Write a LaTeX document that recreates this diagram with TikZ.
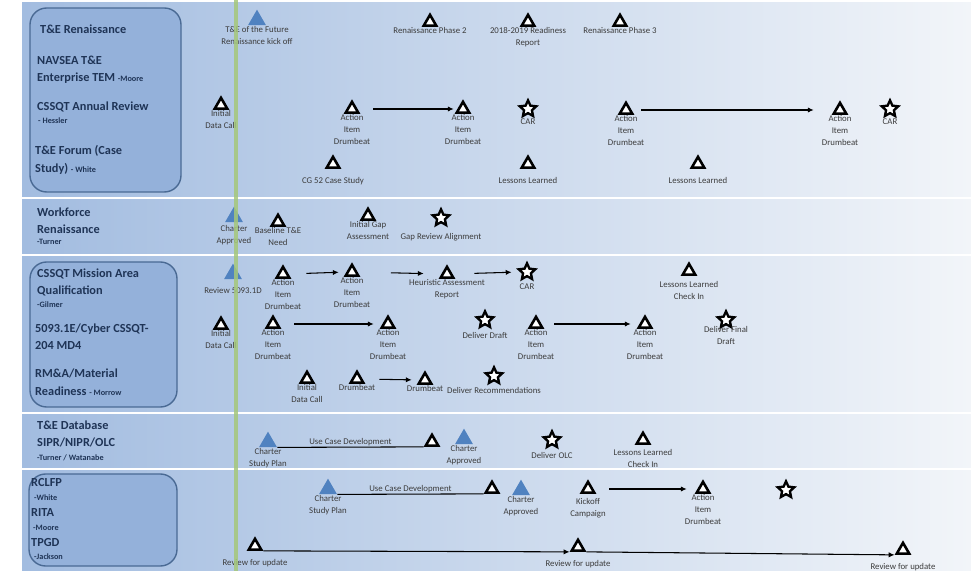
\documentclass[tikz,border=0pt]{standalone}
\usepackage{fontspec}
\setmainfont{Carlito}
\usetikzlibrary{shapes.geometric,arrows.meta}

\definecolor{BandL}{HTML}{A2BCE0}
\definecolor{BandR}{HTML}{F2F5F9}
\definecolor{BoxFill}{HTML}{94B1DA}
\definecolor{BoxLine}{HTML}{4A6A94}
\definecolor{MileBlue}{HTML}{5082C0}
\definecolor{GreenLine}{HTML}{A5C77A}
\definecolor{TitleInk}{HTML}{1F3456}
\definecolor{LabelInk}{HTML}{3C3C3C}

\newcommand{\subfont}{\fontsize{7}{8}\selectfont\bfseries}

\tikzset{
  band/.style={left color=BandL, right color=BandR},
  lanebox/.style={rounded corners=0.5cm, fill=BoxFill, draw=BoxLine, line width=1.2pt},
  ttl/.style={anchor=west, inner sep=0pt, text=TitleInk, font=\fontsize{10.5}{15}\selectfont\bfseries},
  sub/.style={anchor=west, inner sep=0pt, text=TitleInk, font=\subfont},
  lbl/.style={align=center, inner sep=0.5pt, text=LabelInk, font=\fontsize{7.5}{10}\selectfont},
  mile/.style={regular polygon, regular polygon sides=3, draw=black, line width=2.2pt, fill=white, inner sep=0pt, minimum size=4.3mm},
  bmile/.style={regular polygon, regular polygon sides=3, fill=MileBlue, inner sep=0pt, minimum size=6.2mm},
  goal/.style={star, star points=5, star point ratio=2.1, draw=black, line width=2pt, fill=white, inner sep=0pt, minimum size=5.2mm},
  flow/.style={line width=0.9pt, -{Latex[length=5pt,width=4.5pt]}},
  plain/.style={line width=0.9pt}
}

\begin{document}
\begin{tikzpicture}[x=0.03cm, y=-0.03cm]
 \useasboundingbox (0,0) rectangle (971,571);

 %%%%%%%%%% Bands %%%%%%%%%%
 \path[band] (22,3) rectangle (971,197);
 \path[band] (22,200) rectangle (971,254);
 \path[band] (22,257) rectangle (971,412);
 \path[band] (22,415) rectangle (971,468);
 \path[band] (22,471) rectangle (971,571);

 \draw[lanebox] (30,8) rectangle (181,192);
 \draw[lanebox] (30,262) rectangle (177,407);
 \draw[lanebox] (29,474) rectangle (177,566);

 %%%%%%%%%% Lane titles %%%%%%%%%%
 \node[ttl] (ttlren) at (40,29) {T\&E Renaissance};
 \node[ttl] (ttlnav1) at (37,60) {NAVSEA T\&E};
 \node[ttl] (ttlnav2) at (37,78) {Enterprise TEM {\subfont -Moore}};
 \node[ttl] (ttlcss) at (37,107) {CSSQT Annual Review};
 \node[sub] (subhes) at (38,121) {- Hessler};
 \node[ttl] (ttlfor1) at (35,151) {T\&E Forum (Case};
 \node[ttl] (ttlfor2) at (35,169) {Study) {\subfont - White}};

 \node[ttl] (ttlwf1) at (37,212) {Workforce};
 \node[ttl] (ttlwf2) at (37,229) {Renaissance};
 \node[sub] (subtur) at (37,242) {-Turner};

 \node[ttl] (ttlmis1) at (37,274) {CSSQT Mission Area};
 \node[ttl] (ttlmis2) at (37,291) {Qualification};
 \node[sub] (subgil) at (37,305) {-Gilmer};
 \node[ttl] (ttlcyb1) at (35,329) {5093.1E/Cyber CSSQT-};
 \node[ttl] (ttlcyb2) at (35,346) {204 MD4};
 \node[ttl] (ttlrma1) at (35,373) {RM\&A/Material};
 \node[ttl] (ttlrma2) at (35,391) {Readiness {\subfont - Morrow}};

 \node[ttl] (ttldb1) at (37,425) {T\&E Database};
 \node[ttl] (ttldb2) at (37,442) {SIPR/NIPR/OLC};
 \node[sub] (subwat) at (37,458) {-Turner / Watanabe};

 \node[ttl] (ttlrcl) at (31,483) {RCLFP};
 \node[sub] (subwhi) at (34,498) {-White};
 \node[ttl] (ttlrit) at (31,513) {RITA};
 \node[sub] (submoo) at (33,528) {-Moore};
 \node[ttl] (ttltpg) at (31,543) {TPGD};
 \node[sub] (subjac) at (34,557) {-Jackson};

 %%%%%%%%%% T&E Renaissance %%%%%%%%%%
 \node[bmile, label={[lbl]below:T\&E of the Future\\Renaissance kick off}] (kick) at (257,20) {};
 \node[mile, label={[lbl]below:Renaissance Phase 2}] (ph2) at (430,22) {};
 \node[mile, label={[lbl]below:2018-2019 Readiness\\Report}] (rr) at (528,22) {};
 \node[mile, label={[lbl]below:Renaissance Phase 3}] (ph3) at (620,22) {};

 \node[mile, label={[lbl]below:Initial\\Data Call}] (cdc) at (221,105) {};
 \node[mile, label={[lbl]below:Action\\Item\\Drumbeat}] (cai1) at (352,109) {};
 \node[mile, label={[lbl]below:Action\\Item\\Drumbeat}] (cai2) at (463,109) {};
 \node[goal, label={[lbl,yshift=-3pt]below:CAR}] (car1) at (528,109) {};
 \node[mile, label={[lbl]below:Action\\Item\\Drumbeat}] (cai3) at (626,110) {};
 \node[mile, label={[lbl]below:Action\\Item\\Drumbeat}] (cai4) at (840,110) {};
 \node[goal, label={[lbl,yshift=-3pt]below:CAR}] (car2) at (890,109) {};

 \node[mile, label={[lbl,yshift=-7pt]below:CG 52 Case Study}] (cg52) at (333,164) {};
 \node[mile, label={[lbl,yshift=-7pt]below:Lessons Learned}] (ll1) at (528,164) {};
 \node[mile, label={[lbl,yshift=-7pt]below:Lessons Learned}] (ll2) at (698,164) {};

 \draw[flow, shorten <=4.7mm, shorten >=1.1mm] (cai1.east) -- (cai2.west);
 \draw[flow, shorten <=2.9mm, shorten >=6.2mm] (cai3.east) -- (cai4.west);

 %%%%%%%%%% Workforce Renaissance %%%%%%%%%%
 \node[bmile, label={[lbl,yshift=-2pt]below:Charter\\Approved}] (wca) at (234,217) {};
 \node[mile, label={[lbl]below:Baseline T\&E\\Need}] (wbase) at (278,222) {};
 \node[mile, label={[lbl]below:Initial Gap\\Assessment}] (wgap) at (368,216) {};
 \node[goal, label={[lbl,yshift=-8pt]below:Gap Review Alignment}] (wstar) at (441,218) {};

 %%%%%%%%%% CSSQT Mission Area %%%%%%%%%%
 \node[bmile, label={[lbl,yshift=-6pt]below:Review 5093.1D}] (mrev) at (233,274) {};
 \node[mile, label={[lbl]below:Action\\Item\\Drumbeat}] (mai1) at (283,274) {};
 \node[mile, label={[lbl]below:Action\\Item\\Drumbeat}] (mai2) at (352,272) {};
 \node[mile, label={[lbl]below:Heuristic Assessment\\Report}] (mrep) at (447,274) {};
 \node[goal, label={[lbl,yshift=-5pt]below:CAR}] (mcar) at (527,272) {};
 \node[mile, label={[lbl,yshift=-4pt]below:Lessons Learned\\Check In}] (mll) at (689,271) {};

 \node[mile, label={[lbl]below:Initial\\Data Call}] (sdc) at (221,325) {};
 \node[mile, label={[lbl]below:Action\\Item\\Drumbeat}] (sai1) at (273,324) {};
 \node[mile, label={[lbl]below:Action\\Item\\Drumbeat}] (sai2) at (388,324) {};
 \node[goal, label={[lbl,yshift=-5pt]below:Deliver Draft}] (sdd) at (485,320) {};
 \node[mile, label={[lbl]below:Action\\Item\\Drumbeat}] (sai3) at (536,324) {};
 \node[mile, label={[lbl]below:Action\\Item\\Drumbeat}] (sai4) at (645,324) {};
 \node[goal, label={[lbl]below:Deliver Final\\Draft}] (sdf) at (726,320) {};

 \node[mile, label={[lbl]below:Initial\\Data Call}] (adc) at (307,379) {};
 \node[mile, label={[lbl]below:Drumbeat}] (adb1) at (357,379) {};
 \node[mile, label={[lbl]below:Drumbeat}] (adb2) at (425,380) {};
 \node[goal, label={[lbl,yshift=-4pt]below:Deliver Recommendations}] (arec) at (494,376) {};

 \draw[flow, shorten <=5.3mm, shorten >=2.3mm] (mai1.east) -- (mai2.west);
 \draw[flow, shorten <=10mm, shorten >=5.3mm] (mai2.east) -- (mrep.west);
 \draw[flow, shorten <=6.5mm, shorten >=2.5mm] (mrep.east) -- (mcar.west);
 \draw[flow, shorten <=4.7mm, shorten >=2.6mm] (sai1.east) -- (sai2.west);
 \draw[flow, shorten <=3.8mm, shorten >=2.6mm] (sai3.east) -- (sai4.west);
 \draw[flow, shorten <=5mm, shorten >=2.3mm] (adb1.east) -- (adb2.west);

 %%%%%%%%%% T&E Database %%%%%%%%%%
 \node[bmile, label={[lbl]below:Charter\\Study Plan}] (dcsp) at (268,442) {};
 \node[mile] (dtri) at (432,442) {};
 \node[bmile, label={[lbl]below:Charter\\Approved}] (dca) at (464,439) {};
 \node[goal, label={[lbl,yshift=-5pt]below:Deliver OLC}] (dolc) at (552,440) {};
 \node[mile, label={[lbl,yshift=-3pt]below:Lessons Learned\\Check In}] (dll) at (643,440) {};

 \draw[plain] (dcsp.corner 3) -- node[lbl, above, inner sep=1pt] {Use Case Development} (dtri.corner 2);

 %%%%%%%%%% RCLFP / RITA / TPGD %%%%%%%%%%
 \node[bmile, label={[lbl]below:Charter\\Study Plan}] (kcsp) at (328,489) {};
 \node[mile] (ktri) at (492,489) {};
 \node[bmile, label={[lbl]below:Charter\\Approved}] (kca) at (521,490) {};
 \node[mile, label={[lbl,yshift=-3pt]below:Kickoff\\Campaign}] (kkick) at (588,489) {};
 \node[mile, label={[lbl]below:Action\\Item\\Drumbeat}] (kai) at (703,489) {};
 \node[goal] (kstar) at (786,490) {};

 \node[mile, label={[lbl,yshift=-7pt]below:Review for update}] (krev1) at (255,546) {};
 \node[mile, label={[lbl,yshift=-7pt]below:Review for update}] (krev2) at (578,547) {};
 \node[mile, label={[lbl,yshift=-7pt]below:Review for update}] (krev3) at (903,550) {};

 \draw[plain] (kcsp.corner 3) -- node[lbl, above, inner sep=1pt] {Use Case Development} (ktri.corner 2);
 \draw[flow, shorten <=4.7mm, shorten >=3.2mm] (kkick.east) -- (kai.west);
 \draw[flow] (krev1.corner 3) -- (krev2.corner 2);
 \draw[flow] (krev2.corner 3) -- (krev3.corner 2);

 %%%%%%%%%% Today line %%%%%%%%%%
 \draw[GreenLine, line width=2.8pt, opacity=0.85] (236,0) -- (236,571);

\end{tikzpicture}
\end{document}
